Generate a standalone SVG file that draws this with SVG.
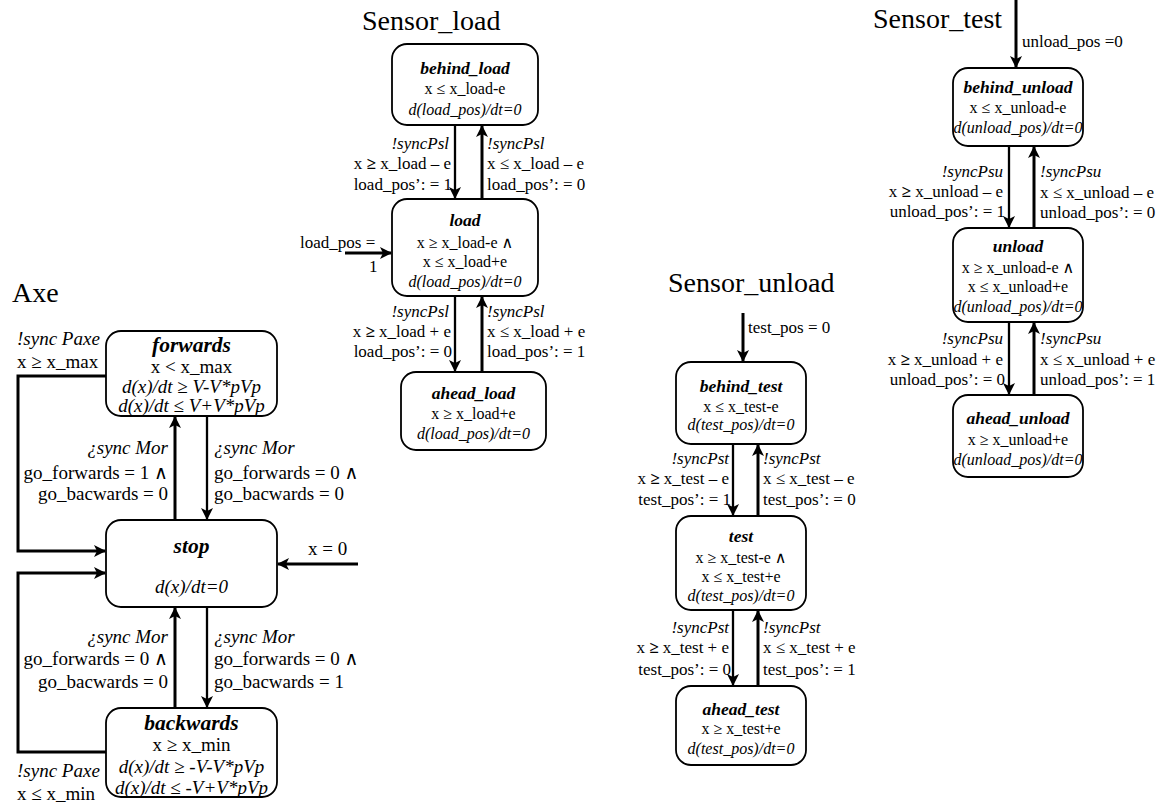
<svg xmlns="http://www.w3.org/2000/svg" width="1164" height="805" viewBox="0 0 1164 805" font-family="'Liberation Serif', 'Times New Roman', Times, 'DejaVu Serif', serif">
<defs>
<marker id="ah" viewBox="0 0 12 12" markerWidth="12" markerHeight="12" refX="11" refY="6" orient="auto" markerUnits="userSpaceOnUse">
<path d="M0,0 L12,6 L0,12 L3,6 z" fill="#000"/>
</marker>
<style>
text{font-family:'Liberation Serif','Times New Roman',Times,'DejaVu Serif',serif;fill:#000}
.t{font-size:28px}
.box{fill:#fff;stroke:#000;stroke-width:1.8}
.axn{font-size:21.5px;font-weight:bold;font-style:italic;text-anchor:middle}
.ax{font-size:19px;text-anchor:middle}
.axi{font-size:19px;font-style:italic;text-anchor:middle}
.al{font-size:19px}
.ali{font-size:19px;font-style:italic}
.sn{font-size:17.5px;font-weight:bold;font-style:italic;text-anchor:middle}
.st{font-size:16px;text-anchor:middle}
.sti{font-size:16px;font-style:italic;text-anchor:middle}
.sl{font-size:17px}
.sli{font-size:17px;font-style:italic}
.e{text-anchor:end}
.b{font-weight:bold}
.c path,.c line,.c polyline{fill:none;stroke:#000;marker-end:url(#ah)}
.w3{stroke-width:3}
.w2{stroke-width:2.3}
</style>
</defs>
<rect width="1164" height="805" fill="#fff"/>

<text class="t" x="12" y="302">Axe</text>
<text class="t" x="362" y="30">Sensor_load</text>
<text class="t" x="668" y="292">Sensor_unload</text>
<text class="t" x="873" y="28">Sensor_test</text>

<g class="c" id="connectors">
<line class="w3" x1="175" y1="520" x2="175" y2="417"/>
<line class="w2" x1="207" y1="416" x2="207" y2="519"/>
<line class="w3" x1="175" y1="708" x2="175" y2="608"/>
<line class="w2" x1="207" y1="607" x2="207" y2="707"/>
<polyline class="w3" points="106,376 18,376 18,551 105,551"/>
<polyline class="w3" points="106,752 18,752 18,573 105,573"/>
<line class="w3" x1="358" y1="564" x2="278" y2="564"/>

<line class="w2" x1="455" y1="125" x2="455" y2="198"/>
<line class="w3" x1="482" y1="199" x2="482" y2="126"/>
<line class="w2" x1="455" y1="296" x2="455" y2="371"/>
<line class="w3" x1="482" y1="372" x2="482" y2="297"/>
<line class="w3" x1="345" y1="253" x2="391" y2="253"/>

<line class="w3" x1="743" y1="313" x2="743" y2="361"/>
<line class="w2" x1="733" y1="444" x2="733" y2="515"/>
<line class="w3" x1="758" y1="516" x2="758" y2="445"/>
<line class="w2" x1="733" y1="610" x2="733" y2="685"/>
<line class="w3" x1="758" y1="686" x2="758" y2="611"/>

<line class="w3" x1="1016" y1="0" x2="1016" y2="67"/>
<line class="w2" x1="1009" y1="146" x2="1009" y2="227"/>
<line class="w3" x1="1034" y1="228" x2="1034" y2="147"/>
<line class="w2" x1="1009" y1="322" x2="1009" y2="394"/>
<line class="w3" x1="1034" y1="395" x2="1034" y2="323"/>
</g>

<g id="connector-labels">
<text class="ali" x="17" y="345">!sync Paxe</text>
<text class="al" x="17" y="368">x ≥ x_max</text>
<text class="ali" x="17" y="777">!sync Paxe</text>
<text class="al" x="17" y="800">x ≤ x_min</text>
<text class="al" x="308" y="555">x = 0</text>

<text class="ali e" x="168" y="454">¿sync Mor</text>
<text class="al e" x="168" y="479">go_forwards = 1 ∧</text>
<text class="al e" x="168" y="500">go_bacwards = 0</text>
<text class="ali" x="214" y="454">¿sync Mor</text>
<text class="al" x="214" y="479">go_forwards = 0 ∧</text>
<text class="al" x="214" y="500">go_bacwards = 0</text>

<text class="ali e" x="168" y="643">¿sync Mor</text>
<text class="al e" x="168" y="665">go_forwards = 0 ∧</text>
<text class="al e" x="168" y="688">go_bacwards = 0</text>
<text class="ali" x="214" y="643">¿sync Mor</text>
<text class="al" x="214" y="665">go_forwards = 0 ∧</text>
<text class="al" x="214" y="688">go_bacwards = 1</text>

<text class="sl" x="300" y="248">load_pos =</text>
<text class="sl" x="369" y="272">1</text>
<text class="sli e" x="449" y="149">!syncPsl</text>
<text class="sl e" x="451" y="169">x <tspan class="b">≥</tspan> x_load – e</text>
<text class="sl e" x="452" y="190">load_pos’: = 1</text>
<text class="sli" x="487" y="149">!syncPsl</text>
<text class="sl" x="487" y="169">x ≤ x_load – e</text>
<text class="sl" x="487" y="190">load_pos’: = 0</text>
<text class="sli e" x="449" y="317">!syncPsl</text>
<text class="sl e" x="451" y="337">x <tspan class="b">≥</tspan> x_load + e</text>
<text class="sl e" x="452" y="357">load_pos’: = 0</text>
<text class="sli" x="487" y="317">!syncPsl</text>
<text class="sl" x="487" y="337">x ≤ x_load + e</text>
<text class="sl" x="487" y="357">load_pos’: = 1</text>

<text class="sl" x="748" y="333">test_pos = 0</text>
<text class="sli e" x="729" y="464">!syncPst</text>
<text class="sl e" x="729" y="484">x <tspan class="b">≥</tspan> x_test – e</text>
<text class="sl e" x="731" y="505">test_pos’: = 1</text>
<text class="sli" x="763" y="464">!syncPst</text>
<text class="sl" x="763" y="484">x ≤ x_test – e</text>
<text class="sl" x="763" y="505">test_pos’: = 0</text>
<text class="sli e" x="729" y="633">!syncPst</text>
<text class="sl e" x="729" y="653">x <tspan class="b">≥</tspan> x_test + e</text>
<text class="sl e" x="731" y="675">test_pos’: = 0</text>
<text class="sli" x="763" y="633">!syncPst</text>
<text class="sl" x="763" y="653">x ≤ x_test + e</text>
<text class="sl" x="763" y="675">test_pos’: = 1</text>

<text class="sl" x="1022" y="47">unload_pos =0</text>
<text class="sli e" x="1003" y="177">!syncPsu</text>
<text class="sl e" x="1003" y="197">x <tspan class="b">≥</tspan> x_unload – e</text>
<text class="sl e" x="1005" y="217">unload_pos’: = 1</text>
<text class="sli" x="1040" y="177">!syncPsu</text>
<text class="sl" x="1040" y="198">x ≤ x_unload – e</text>
<text class="sl" x="1040" y="218">unload_pos’: = 0</text>
<text class="sli e" x="1003" y="344">!syncPsu</text>
<text class="sl e" x="1003" y="365">x <tspan class="b">≥</tspan> x_unload + e</text>
<text class="sl e" x="1005" y="385">unload_pos’: = 0</text>
<text class="sli" x="1040" y="344">!syncPsu</text>
<text class="sl" x="1040" y="365">x ≤ x_unload + e</text>
<text class="sl" x="1040" y="385">unload_pos’: = 1</text>
</g>

<g id="forwards">
<rect class="box" x="106" y="331" width="171" height="85" rx="15"/>
<text class="axn" x="191.5" y="352">forwards</text>
<text class="ax" x="191.5" y="373">x &lt; x_max</text>
<text class="axi" x="191.5" y="393">d(x)/dt ≥ V-V*pVp</text>
<text class="axi" x="191.5" y="412">d(x)/dt ≤ V+V*pVp</text>
</g>
<g id="stop">
<rect class="box" x="106" y="520" width="171" height="87" rx="15"/>
<text class="axn" x="191.5" y="553">stop</text>
<text class="axi" x="191.5" y="593">d(x)/dt=0</text>
</g>
<g id="backwards">
<rect class="box" x="106" y="708" width="171" height="89" rx="15"/>
<text class="axn" x="191.5" y="730">backwards</text>
<text class="ax" x="191.5" y="751">x ≥ x_min</text>
<text class="axi" x="191.5" y="773">d(x)/dt ≥ -V-V*pVp</text>
<text class="axi" x="191.5" y="794">d(x)/dt ≤ -V+V*pVp</text>
</g>

<g id="behind_load">
<rect class="box" x="392" y="44" width="146" height="81" rx="15"/>
<text class="sn" x="465" y="74">behind_load</text>
<text class="st" x="465" y="94">x ≤ x_load-e</text>
<text class="sti" x="465" y="115">d(load_pos)/dt=0</text>
</g>
<g id="load">
<rect class="box" x="392" y="199" width="146" height="97" rx="15"/>
<text class="sn" x="465" y="226">load</text>
<text class="st" x="465" y="248">x ≥ x_load-e ∧</text>
<text class="st" x="465" y="267">x ≤ x_load+e</text>
<text class="sti" x="465" y="287">d(load_pos)/dt=0</text>
</g>
<g id="ahead_load">
<rect class="box" x="401" y="372" width="145" height="78" rx="15"/>
<text class="sn" x="473.5" y="399">ahead_load</text>
<text class="st" x="473.5" y="419">x ≥ x_load+e</text>
<text class="sti" x="473.5" y="439">d(load_pos)/dt=0</text>
</g>

<g id="behind_test">
<rect class="box" x="676" y="362" width="130" height="82" rx="15"/>
<text class="sn" x="741" y="392">behind_test</text>
<text class="st" x="741" y="412">x ≤ x_test-e</text>
<text class="sti" x="741" y="430">d(test_pos)/dt=0</text>
</g>
<g id="test">
<rect class="box" x="676" y="516" width="130" height="94" rx="15"/>
<text class="sn" x="741" y="542">test</text>
<text class="st" x="741" y="563">x ≥ x_test-e ∧</text>
<text class="st" x="741" y="582">x ≤ x_test+e</text>
<text class="sti" x="741" y="601">d(test_pos)/dt=0</text>
</g>
<g id="ahead_test">
<rect class="box" x="676" y="686" width="130" height="79" rx="15"/>
<text class="sn" x="741" y="715">ahead_test</text>
<text class="st" x="741" y="734">x ≥ x_test+e</text>
<text class="sti" x="741" y="754">d(test_pos)/dt=0</text>
</g>

<g id="behind_unload">
<rect class="box" x="953" y="68" width="130" height="78" rx="15"/>
<text class="sn" x="1018" y="93">behind_unload</text>
<text class="st" x="1018" y="113">x ≤ x_unload-e</text>
<text class="sti" x="1018" y="133">d(unload_pos)/dt=0</text>
</g>
<g id="unload">
<rect class="box" x="953" y="228" width="130" height="94" rx="15"/>
<text class="sn" x="1018" y="252">unload</text>
<text class="st" x="1018" y="273">x ≥ x_unload-e ∧</text>
<text class="st" x="1018" y="292">x ≤ x_unload+e</text>
<text class="sti" x="1018" y="312">d(unload_pos)/dt=0</text>
</g>
<g id="ahead_unload">
<rect class="box" x="953" y="395" width="130" height="82" rx="15"/>
<text class="sn" x="1018" y="424">ahead_unload</text>
<text class="st" x="1018" y="445">x ≥ x_unload+e</text>
<text class="sti" x="1018" y="465">d(unload_pos)/dt=0</text>
</g>
</svg>
